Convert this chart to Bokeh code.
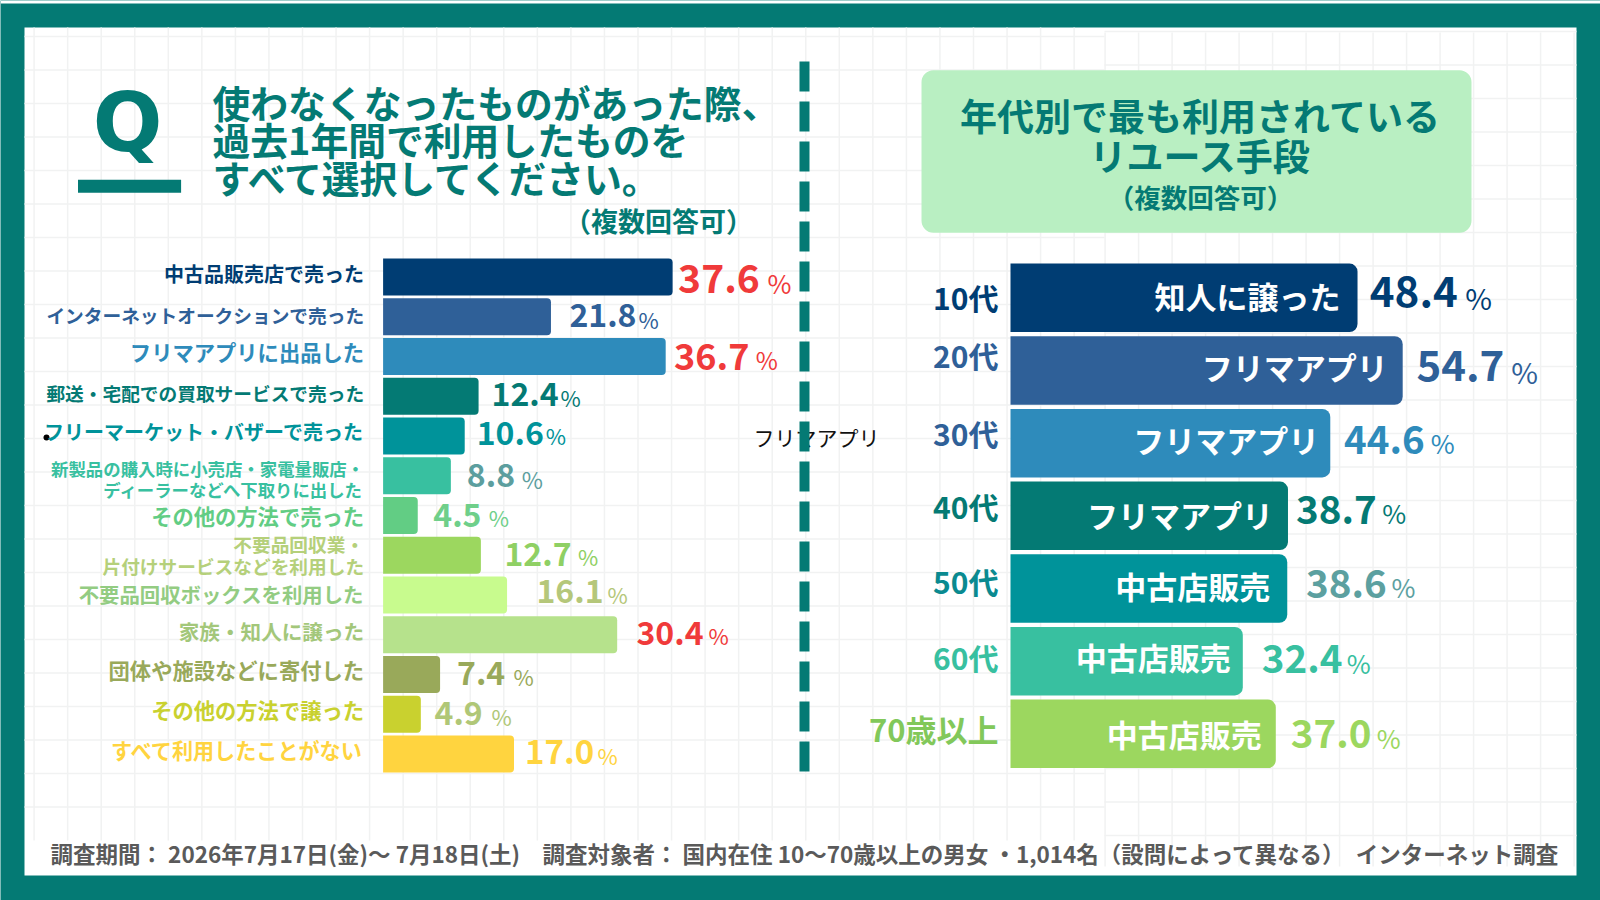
import numpy as np
from bokeh.core.properties import value
from bokeh.embed import file_html
from bokeh.models import ColumnDataSource, Range1d
from bokeh.plotting import figure
from bokeh.resources import INLINE

# ---------- data ----------
methods = ["中古品販売店で売った", "インターネットオークションで売った", "フリマアプリに出品した",
           "郵送・宅配での買取サービスで売った", "フリーマーケット・バザーで売った",
           "新製品の購入時に小売店・家電量販店・\nディーラーなどへ下取りに出した", "その他の方法で売った",
           "不要品回収業・\n片付けサービスなどを利用した", "不要品回収ボックスを利用した", "家族・知人に譲った",
           "団体や施設などに寄付した", "その他の方法で譲った", "すべて利用したことがない"]
method_values = [37.6, 21.8, 36.7, 12.4, 10.6, 8.8, 4.5, 12.7, 16.1, 30.4, 7.4, 4.9, 17.0]
ages = ["10代", "20代", "30代", "40代", "50代", "60代", "70歳以上"]
age_means = ["知人に譲った", "フリマアプリ", "フリマアプリ", "フリマアプリ", "中古店販売", "中古店販売", "中古店販売"]
age_values = [48.4, 54.7, 44.6, 38.7, 38.6, 32.4, 37.0]

title_left = ["使わなくなったものがあった際、", "過去1年間で利用したものを", "すべて選択してください。"]
title_right = ["年代別で最も利用されている", "リユース手段"]
note = "（複数回答可）"
footer = "調査期間： 2026年7月17日(金)～ 7月18日(土)　調査対象者： 国内在住 10～70歳以上の男女 ・1,014名（設問によって異なる）　インターネット調査"

# ---------- styles ----------
TEAL = "#047a74"
RED = "#f03a3a"
FONT = value("Noto Sans CJK JP")
m_bar = ["#003d73", "#2f6098", "#2e8bbb", "#047a74", "#00939a", "#38c0a0", "#62cd84",
         "#9cd75f", "#c8fb8e", "#b6e28c", "#99a95a", "#c9d12f", "#ffd43f"]
m_lab = ["#003d73", "#2f6098", "#2e8bbb", "#047a74", "#00939a", "#38c0a0", "#62cd84",
         "#b5d07a", "#93cc82", "#a3c77a", "#99a95a", "#c9d12f", "#ffd43f"]
m_val = [RED, "#2f6098", RED, "#047a74", "#00939a", "#5c9e9e", "#6fcf8a",
         "#8fd064", "#b5c77a", RED, "#99a95a", "#b0c777", "#ffd43f"]
m_lab_size = [20, 18.7, 21.3, 18.7, 20, 17.4, 21.3, 18.7, 20.4, 20.6, 21.3, 21.3, 21.1]
m_lab_lh = [1.2, 1.2, 1.2, 1.2, 1.2, 0.82, 1.2, 0.82, 1.2, 1.2, 1.2, 1.2, 1.2]
m_lab_dy = [-3.5, -2, -5, -4, -4.5, 3, 0, -1, -1.5, -4, -5.5, -5, -4]
m_num_size = [39, 32, 36, 32, 32, 32, 32, 32, 32, 32, 32, 32, 33]
m_num_dx = [5.5, 18.5, 8.3, 13, 12, 16, 15.5, 23.6, 29.4, 19.3, 17, 13.7, 11]
m_num_dy = [1, -1.5, -.3, -2, -3, -1, -1, -1, -4, -2, -2, -1, -3]
m_pct_size = [26, 22, 24, 22, 22, 23, 22, 22, 22, 22, 22, 22, 22]
m_pct_dx = [95, 87.5, 90, 82, 81, 71, 71, 97, 100.4, 91.3, 73.4, 70.7, 83.5]
m_pct_dy = [5.5, 2, 3, 1, -1, 3, 1, 1, -1.5, 0, 1.7, 2, .5]

a_bar = ["#003d73", "#2f6098", "#2e8bbb", "#047a74", "#00939a", "#38c0a0", "#9cd75f"]
a_lab = ["#003d73", "#2f6098", "#2f6098", "#047a74", "#0a8a90", "#38c0a0", "#82c85a"]
a_val = ["#003d73", "#2f6098", "#2e8bbb", "#047a74", "#5ca0a0", "#38c0a0", "#9cd75f"]
a_lab_size = [30, 30, 30, 30, 30, 30, 31]
a_lab_dy = [-1, -15.3, -10.6, -10.3, -7, -4.6, -5.6]
a_in_dx = [-17, -15, -11, -15, -17, -12, -14]
a_in_dy = [-2.6, -4.3, -3.6, -1.6, -3.3, -4.9, -.3]
a_num_size = [42, 42, 38.5, 38.5, 38.5, 38.5, 38.5]
a_num_dx = [12.3, 13.7, 13.8, 8, 18.8, 19, 15]
a_num_dy = [-6, -5.3, -3.6, -6.6, -5, -2.6, -.3]
a_pct_size = [29, 29, 26, 26, 26, 26, 26]
a_pct_dx = [107.7, 108.6, 100.5, 94.3, 104.3, 104, 101]
a_pct_dy = [-1, .7, -.6, -3.3, -1.7, 1.4, 3.7]


def px(sizes):
    return [f"{s}px" for s in sizes]


# figure fills the page; the frame is addressed in page pixels
W, H = 1600, 900
p = figure(width=W, height=H, x_range=Range1d(0, W), y_range=Range1d(H, 0),
           output_backend="svg", toolbar_location=None, min_border=0,
           background_fill_color=TEAL, border_fill_color=TEAL, outline_line_color=None)
p.xaxis.visible = False
p.yaxis.visible = False
p.xgrid.visible = False
p.ygrid.visible = False


def x_scale(x0, k):
    return Range1d((0 - x0) / k, (W - x0) / k)


def y_scale(y0, k):
    return Range1d((H - y0) / k, (0 - y0) / k)


p.extra_x_ranges = {"mx": x_scale(382.6, 7.70), "ax": x_scale(1010, 7.17)}
p.extra_y_ranges = {"my": y_scale(276.5, 39.75), "ay": y_scale(297.3, 72.67)}

# top sliver and panel
p.quad(left=0, right=W, top=0, bottom=3, fill_color="#ffffff", line_color=None)
p.quad(left=24, right=1576, top=27, bottom=875, fill_color="#ffffff", line_color=None)

# faint background grid
GRID = "#f1f2f2"
vx = np.arange(33.6, 1104, 33.55)
hy = np.arange(36, 810, 33.5)
p.multi_line([[x, x] for x in vx], [[27, 840]] * len(vx), line_color=GRID, line_width=1.5)
p.multi_line([[24, 1104]] * len(hy), [[y, y] for y in hy], line_color=GRID, line_width=1.5)
vx2 = np.arange(1104.6, 1576, 33.5)
hy2 = np.arange(31, 838, 33.5)
p.multi_line([[x, x] for x in vx2], [[32, 866]] * len(vx2), line_color=GRID, line_width=1.5)
p.multi_line([[1104, 1576]] * len(hy2), [[y, y] for y in hy2], line_color=GRID, line_width=1.5)

# stray text and bullet of the original
p.text([816], [436], text=["フリマアプリ"], text_font=FONT, text_font_size="21px", text_color="#111111",
       text_align="center", text_baseline="middle")
p.scatter([46], [437], size=6, fill_color="#000000", line_color=None)

# divider
dash_top = np.arange(61, 771, 40)
p.quad(left=799, right=809, top=dash_top, bottom=dash_top + 30, fill_color=TEAL, line_color=None)

p.quad(left=77.5, right=180.6, top=179.3, bottom=192.3, fill_color=TEAL, line_color=None)

# right heading box
p.quad(left=921, right=1471, top=69.7, bottom=232.3, fill_color="#b9efc2", line_color=None, border_radius=12)

# left chart
ms = ColumnDataSource(dict(
    y=list(range(len(methods))), v=method_values, lab=methods, num=[f"{v:.1f}" for v in method_values],
    pct=["%"] * len(methods), zero=[0] * len(methods), bar=m_bar, labc=m_lab, valc=m_val,
    ls=px(m_lab_size), lh=m_lab_lh, ldy=m_lab_dy, ns=px(m_num_size), ndx=m_num_dx, ndy=m_num_dy,
    ps=px(m_pct_size), pdx=m_pct_dx, pdy=m_pct_dy))
kw = dict(source=ms, x_range_name="mx", y_range_name="my")
p.hbar(y="y", left="zero", right="v", height=0.93, fill_color="bar", line_color=None,
       border_radius=(0, 4, 4, 0), **kw)

# right chart
asrc = ColumnDataSource(dict(
    y=list(range(len(ages))), v=age_values, lab=ages, mean=age_means, num=[f"{v:.1f}" for v in age_values],
    pct=["%"] * len(ages), zero=[0] * len(ages), bar=a_bar, labc=a_lab, valc=a_val,
    ls=px(a_lab_size), ldy=a_lab_dy, idx=a_in_dx, idy=a_in_dy, ns=px(a_num_size), ndx=a_num_dx, ndy=a_num_dy,
    ps=px(a_pct_size), pdx=a_pct_dx, pdy=a_pct_dy))
kwa = dict(source=asrc, x_range_name="ax", y_range_name="ay")
p.hbar(y="y", left="zero", right="v", height=0.943, fill_color="bar", line_color=None,
       border_radius=(0, 8, 8, 0), **kwa)

# ---- texts ----
p.text([212] * 3, [101, 138, 176], text=title_left, text_font=FONT, text_font_style="bold",
       text_font_size="37.8px", text_color=TEAL, text_align="left", text_baseline="middle")
p.text([658], [219.7], text=[note], text_font=FONT, text_font_style="bold", text_font_size="27px",
       text_color=TEAL, text_align="center", text_baseline="middle")
p.text([1200, 1200], [114, 154], text=title_right, text_font=FONT, text_font_style="bold",
       text_font_size="37px", text_color=TEAL, text_align="center", text_baseline="middle")
p.text([1200], [195.7], text=[note], text_font=FONT, text_font_style="bold", text_font_size="26.5px",
       text_color=TEAL, text_align="center", text_baseline="middle")

p.text(x="zero", y="y", text="lab", x_offset=-19, y_offset="ldy", text_font=FONT, text_font_style="bold",
       text_font_size="ls", text_line_height="lh", text_color="labc", text_align="right",
       text_baseline="middle", **kw)
p.text(x="v", y="y", text="num", x_offset="ndx", y_offset="ndy", text_font=FONT, text_font_style="bold",
       text_font_size="ns", text_color="valc", text_align="left", text_baseline="middle", **kw)
p.text(x="v", y="y", text="pct", x_offset="pdx", y_offset="pdy", text_font=FONT,
       text_font_size="ps", text_color="valc", text_align="left", text_baseline="middle", **kw)

p.text(x="zero", y="y", text="lab", x_offset=-12, y_offset="ldy", text_font=FONT, text_font_style="bold",
       text_font_size="ls", text_color="labc", text_align="right", text_baseline="middle", **kwa)
p.text(x="v", y="y", text="mean", x_offset="idx", y_offset="idy", text_font=FONT, text_font_style="bold",
       text_font_size="31px", text_color="#ffffff", text_align="right", text_baseline="middle", **kwa)
p.text(x="v", y="y", text="num", x_offset="ndx", y_offset="ndy", text_font=FONT, text_font_style="bold",
       text_font_size="ns", text_color="valc", text_align="left", text_baseline="middle", **kwa)
p.text(x="v", y="y", text="pct", x_offset="pdx", y_offset="pdy", text_font=FONT,
       text_font_size="ps", text_color="valc", text_align="left", text_baseline="middle", **kwa)

# footer
p.text([50], [852], text=[footer], text_font=FONT, text_font_style="bold", text_font_size="22.5px",
       text_color="#5a5a5a", text_align="left", text_baseline="middle")

# Q mark
p.text([127], [122], text=["Q"], text_font=value("DejaVu Sans"), text_font_style="bold", text_font_size="82px",
       text_color=TEAL, text_align="center", text_baseline="middle")

open("out.html", "w").write(file_html(p, INLINE))
